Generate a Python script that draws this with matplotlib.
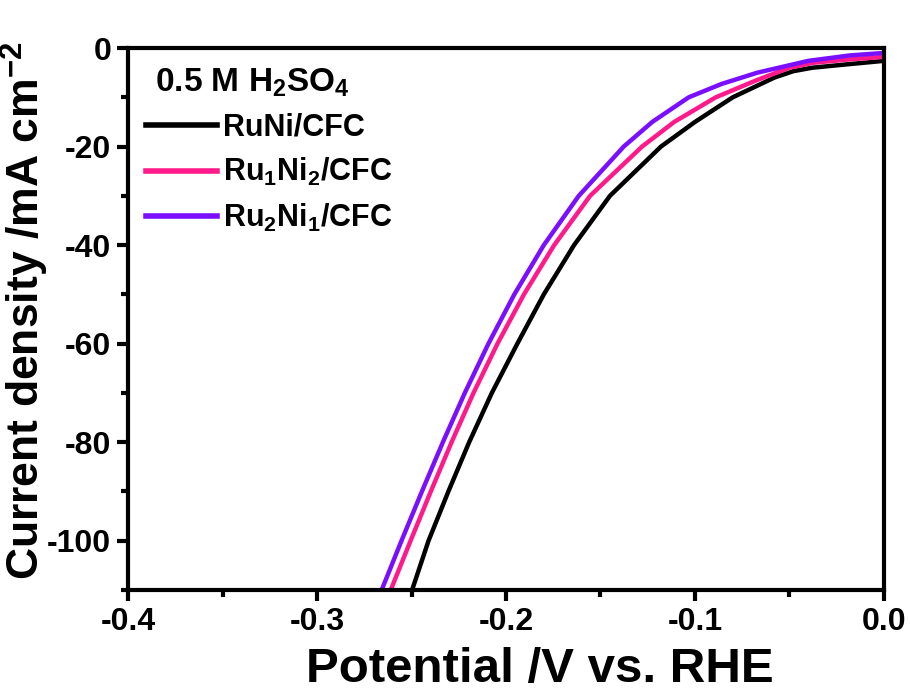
import matplotlib
matplotlib.use("Agg")
import matplotlib.pyplot as plt
from matplotlib.ticker import MultipleLocator

plt.rcParams['font.family'] = ['Liberation Sans', 'DejaVu Sans']
plt.rcParams['font.weight'] = 'bold'
plt.rcParams['axes.unicode_minus'] = False
plt.rcParams['mathtext.fontset'] = 'custom'
plt.rcParams['mathtext.rm'] = 'Liberation Sans:bold'
plt.rcParams['mathtext.bf'] = 'Liberation Sans:bold'
plt.rcParams['mathtext.it'] = 'Liberation Sans:bold'

# LSV data (potential V vs RHE, current density mA cm-2)
runi_x = [-0.2497, -0.2410, -0.2305, -0.2195, -0.2075, -0.1940, -0.1800, -0.1640, -0.1450,
          -0.1180, -0.1000, -0.0800, -0.0690, -0.0580, -0.0480, -0.0380, -0.0220, 0.0]
runi_y = [-110, -100, -90, -80, -70, -60, -50, -40, -30,
          -20, -15, -10, -8, -6, -4.7, -4.0, -3.4, -2.6]

ru1ni2_x = [-0.2610, -0.2505, -0.2398, -0.2288, -0.2172, -0.2045, -0.1905, -0.1745, -0.1555,
            -0.1280, -0.1110, -0.0890, -0.0672, -0.0500, -0.0376, -0.0180, 0.0]
ru1ni2_y = [-110, -100, -90, -80, -70, -60, -50, -40, -30,
            -20, -15, -10, -6.5, -4, -3.0, -2.3, -1.8]

ru2ni1_x = [-0.2658, -0.2553, -0.2445, -0.2334, -0.2218, -0.2093, -0.1956, -0.1800, -0.1615,
            -0.1377, -0.1226, -0.1033, -0.0860, -0.0670, -0.0400, -0.0180, 0.0]
ru2ni1_y = [-110, -100, -90, -80, -70, -60, -50, -40, -30,
            -20, -15, -10, -7.3, -5, -2.6, -1.5, -1.0]

labels = ['RuNi/CFC', 'Ru$_1$Ni$_2$/CFC', 'Ru$_2$Ni$_1$/CFC']
colors = ['black', '#FF1A8C', '#7A0FFF']

fig = plt.figure(figsize=(9.1, 6.93), dpi=100)
ax = fig.add_axes([0.1407, 0.1486, 0.8307, 0.7821])

for xs, ys, lab, c in zip([runi_x, ru1ni2_x, ru2ni1_x], [runi_y, ru1ni2_y, ru2ni1_y], labels, colors):
    ax.plot(xs, ys, color=c, lw=3.2, label=lab, solid_joinstyle='round')

ax.set_xlim(-0.4, 0.0)
ax.set_ylim(-110, 0)
ax.xaxis.set_major_locator(MultipleLocator(0.1))
ax.xaxis.set_minor_locator(MultipleLocator(0.05))
ax.yaxis.set_major_locator(MultipleLocator(20))
ax.yaxis.set_minor_locator(MultipleLocator(10))
ax.set_xticks(ax.get_xticks())
ax.set_xticklabels([f'{v:.1f}' for v in ax.get_xticks()])

for s in ax.spines.values():
    s.set_linewidth(3)
ax.tick_params(which='major', direction='out', length=8, width=3, labelsize=23, pad=4)
ax.tick_params(which='minor', direction='out', length=5, width=3)
ax.set_xlim(-0.4, 0.0)

ax.set_xlabel('Potential /V vs. RHE', fontsize=35.5, fontweight='bold')
ax.set_ylabel('Current density /mA cm$^{-2}$', fontsize=32, fontweight='bold')
ax.xaxis.set_label_coords(0.545, -0.105)
ax.yaxis.set_label_coords(-0.1015, 0.515)

leg = ax.legend(loc='upper left', bbox_to_anchor=(0.0, 1.0), frameon=False,
                title=' 0.5 M H$_2$SO$_4$', fontsize=22, handlelength=2.3,
                handletextpad=0.2, labelspacing=0.45, borderaxespad=0.2)
leg.get_title().set_fontsize(24)
leg.get_title().set_fontweight('bold')
leg._legend_box.align = 'left'
for line in leg.get_lines():
    line.set_linewidth(4)

fig.savefig('out.png', dpi=100)
